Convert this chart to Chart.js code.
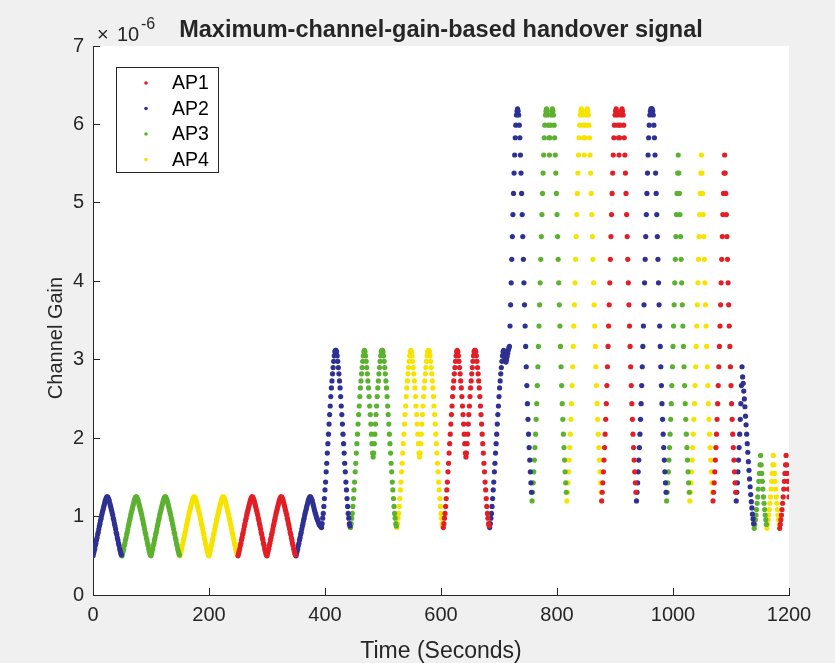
<!DOCTYPE html>
<html>
<head>
<meta charset="utf-8">
<script src="https://cdn.jsdelivr.net/npm/chart.js@4.4.0/dist/chart.umd.min.js"></script>
<style>
  html, body { margin: 0; padding: 0; background: #f0f0f0; }
  canvas { display: block; }
</style>
</head>
<body>
<canvas id="gainChart" width="835" height="663"></canvas>
<script>
  const apNames = ['AP1', 'AP2', 'AP3', 'AP4'];
  const apColors = ['#e21f26', '#2e3192', '#5cb130', '#f6e400'];
  const xTicks = [0, 200, 400, 600, 800, 1000, 1200];
  const yTicks = [0, 1, 2, 3, 4, 5, 6, 7];

  // channel gain in units of 1e-6, one sample per second
  const hump1 = [0.50, 0.53, 0.56, 0.59, 0.63, 0.66, 0.70, 0.73, 0.77, 0.80, 0.84, 0.88, 0.91, 0.95, 0.98, 1.02, 1.05, 1.08, 1.11, 1.14, 1.17, 1.20, 1.22, 1.24, 1.25, 1.25,
    1.24, 1.22, 1.20, 1.17, 1.14, 1.11, 1.08, 1.05, 1.02, 0.98, 0.95, 0.91, 0.88, 0.84, 0.80, 0.77, 0.73, 0.70, 0.66, 0.63, 0.59, 0.56, 0.53, 0.51];
  const tail1 = [0.50, 0.53, 0.56, 0.59, 0.63, 0.66, 0.70, 0.73, 0.77, 0.80, 0.84, 0.88, 0.91, 0.95, 0.98, 1.02, 1.05, 1.08, 1.11, 1.14, 1.17, 1.20, 1.22, 1.24, 1.25, 1.25,
    1.24, 1.22, 1.20, 1.17, 1.14, 1.11, 1.08, 1.05, 1.03, 1.00, 0.98, 0.96, 0.94, 0.92, 0.90, 0.89, 0.88, 0.87];
  const hump2 = [0.86, 0.91, 0.98, 1.04, 1.13, 1.23, 1.34, 1.44, 1.57, 1.68, 1.81, 1.93, 2.05, 2.18, 2.30, 2.41, 2.53, 2.64, 2.73, 2.82, 2.90, 2.98, 3.05, 3.10, 3.12, 3.12,
    3.10, 3.05, 2.98, 2.90, 2.82, 2.73, 2.64, 2.53, 2.41, 2.30, 2.18, 2.05, 1.93, 1.81, 1.68, 1.57, 1.44, 1.34, 1.23, 1.13, 1.04, 0.98, 0.91, 0.88];
  const twin2 = [0.86, 0.91, 0.98, 1.04, 1.13, 1.23, 1.34, 1.44, 1.57, 1.68, 1.81, 1.93, 2.05, 2.18, 2.30, 2.41, 2.53, 2.64, 2.73, 2.82, 2.90, 2.98, 3.05, 3.10, 3.12,
    3.10, 3.05, 2.98, 2.90, 2.82, 2.73, 2.64, 2.53, 2.41, 2.30, 2.18, 2.05, 1.93, 1.81, 1.76,
    1.81, 1.93, 2.05, 2.18, 2.30, 2.41, 2.53, 2.64, 2.73, 2.82, 2.90, 2.98, 3.05, 3.10, 3.12, 3.12,
    3.10, 3.05, 2.98, 2.90, 2.82, 2.73, 2.64, 2.53, 2.41, 2.30, 2.18, 2.05, 1.93, 1.81, 1.68, 1.57, 1.44, 1.34, 1.23, 1.13, 1.04, 0.98, 0.91, 0.88];
  const end2 = [0.86, 0.91, 0.98, 1.04, 1.13, 1.23, 1.34, 1.44, 1.57, 1.68, 1.81, 1.93, 2.05, 2.18, 2.30, 2.41, 2.53, 2.64, 2.73, 2.82, 2.90, 2.98, 3.05, 3.10,
    3.12, 3.08, 3.02, 2.98, 2.97, 3.00, 3.04, 3.08, 3.12, 3.15];
  const start3 = [3.17, 3.43, 3.70, 3.98, 4.28, 4.57, 4.85, 5.12, 5.38, 5.61, 5.83, 5.99, 6.12, 6.17, 6.20, 6.17,
    6.12, 5.99, 5.83, 5.61, 5.38, 5.12, 4.85, 4.57, 4.28, 3.98, 3.70, 3.43, 3.17, 2.91, 2.67, 2.44, 2.24, 2.05, 1.88, 1.72, 1.57, 1.43, 1.31];
  const twin3 = [1.20, 1.31, 1.43, 1.57, 1.72, 1.88, 2.05, 2.24, 2.44, 2.67, 2.91, 3.17, 3.43, 3.70, 3.98, 4.28, 4.57, 4.85, 5.12, 5.38, 5.61, 5.83, 5.99, 6.12,
    6.17, 6.20, 6.17, 6.12, 5.99, 5.83, 5.61, 5.83, 5.99, 6.12, 6.17, 6.20, 6.17,
    6.12, 5.99, 5.83, 5.61, 5.38, 5.12, 4.85, 4.57, 4.28, 3.98, 3.70, 3.43, 3.17, 2.91, 2.67, 2.44, 2.24, 2.05, 1.88, 1.72, 1.57, 1.43, 1.31];
  const hump3 = [1.20, 1.31, 1.43, 1.57, 1.72, 1.88, 2.05, 2.24, 2.44, 2.67, 2.91, 3.17, 3.43, 3.70, 3.98, 4.28, 4.57, 4.85, 5.12, 5.38, 5.61, 5.83, 5.99, 6.12,
    6.17, 6.20, 6.20, 6.20, 6.17,
    6.12, 5.99, 5.83, 5.61, 5.38, 5.12, 4.85, 4.57, 4.28, 3.98, 3.70, 3.43, 3.17, 2.91, 2.67, 2.44, 2.24, 2.05, 1.88, 1.72, 1.57, 1.43, 1.31];
  const cut3 = [1.20, 1.31, 1.43, 1.57, 1.72, 1.88, 2.05, 2.24, 2.44, 2.67, 2.91, 3.17, 3.43, 3.70, 3.98, 4.28, 4.57, 4.85, 5.12, 5.38, 5.61,
    5.38, 5.12, 4.85, 4.57, 4.28, 3.98, 3.70, 3.43, 3.17, 2.91, 2.67, 2.44, 2.24, 2.05, 1.88, 1.72, 1.57, 1.43, 1.31];
  const end3 = [1.20, 1.31, 1.43, 1.57, 1.72, 1.88, 2.05, 2.24, 2.44, 2.67, 2.91,
    2.78, 2.70, 2.60, 2.50, 2.40, 2.28, 2.17, 2.05, 1.93, 1.82, 1.70, 1.59, 1.48, 1.38, 1.28, 1.19, 1.11, 1.03, 0.97, 0.91];
  const hump4 = [0.85, 0.90, 0.96, 1.02, 1.09, 1.17, 1.25, 1.35, 1.45, 1.55, 1.66, 1.78,
    1.66, 1.55, 1.45, 1.35, 1.25, 1.17, 1.09, 1.02, 0.96, 0.90];

  // serving AP (1..4) for each stretch of the trace, in time order
  const runAp = [2, 3, 3, 4, 4, 1, 1, 2,
    2, 3, 4, 1, 2,
    2, 3, 4, 1, 2, 3, 4, 1, 2,
    3, 4, 1];
  const runShape = [hump1, hump1, hump1, hump1, hump1, hump1, hump1, tail1,
    hump2, twin2, twin2, twin2, end2,
    start3, twin3, twin3, twin3, hump3, cut3, cut3, cut3, end3,
    hump4, hump4, hump4];

  const axisColor = '#262626';
  const fontFamily = '"Liberation Sans", Arial, Helvetica, sans-serif';

  const series = apNames.map(() => []);
  let t = 0;
  runShape.forEach((shape, i) => {
    shape.forEach(v => {
      if (t <= 1200) series[runAp[i] - 1].push({ x: t, y: v });
      t++;
    });
  });

  const datasets = apNames.map((name, i) => ({
    label: name,
    data: series[i],
    backgroundColor: apColors[i],
    borderColor: apColors[i],
    pointRadius: 2.6,
    pointBorderWidth: 0,
    showLine: false
  }));

  const frame = {
    id: 'frame',
    beforeDraw(chart) {
      const { ctx, chartArea: a } = chart;
      ctx.save();
      ctx.fillStyle = '#ffffff';
      ctx.fillRect(a.left, a.top, a.right - a.left, a.bottom - a.top);
      ctx.restore();
    },
    afterDraw(chart) {
      const { ctx, chartArea: a } = chart;
      ctx.save();
      ctx.fillStyle = axisColor;
      ctx.textBaseline = 'alphabetic';

      // title
      ctx.font = 'bold 23.5px ' + fontFamily;
      ctx.textAlign = 'center';
      ctx.fillText('Maximum-channel-gain-based handover signal', (a.left + a.right) / 2, 37);

      // exponent
      ctx.font = '20px ' + fontFamily;
      ctx.textAlign = 'left';
      ctx.fillText('\u00d7', 97, 41);
      ctx.fillText('10', 117, 41);
      ctx.font = '16px ' + fontFamily;
      ctx.fillText('-6', 141, 29);

      // axis titles
      ctx.font = '23px ' + fontFamily;
      ctx.textAlign = 'center';
      ctx.fillText('Time (Seconds)', (a.left + a.right) / 2, 658);
      ctx.save();
      ctx.font = '20px ' + fontFamily;
      ctx.translate(62, 338);
      ctx.rotate(-Math.PI / 2);
      ctx.fillText('Channel Gain', 0, 0);
      ctx.restore();

      // legend
      const lx = 116, ly = 67, lw = 102, lh = 105;
      ctx.fillStyle = '#ffffff';
      ctx.fillRect(lx, ly, lw, lh);
      ctx.strokeStyle = axisColor;
      ctx.lineWidth = 1;
      ctx.strokeRect(lx + 0.5, ly + 0.5, lw, lh);
      ctx.font = '19.5px ' + fontFamily;
      ctx.textAlign = 'left';
      ctx.textBaseline = 'middle';
      chart.data.datasets.forEach((ds, i) => {
        const y = ly + 16 + i * 25.5;
        ctx.fillStyle = ds.backgroundColor;
        ctx.beginPath();
        ctx.arc(lx + 30, y, 1.8, 0, Math.PI * 2);
        ctx.fill();
        ctx.fillStyle = '#000000';
        ctx.fillText(ds.label, lx + 56, y + 1);
      });
      ctx.restore();
    }
  };

  new Chart(document.getElementById('gainChart'), {
    type: 'scatter',
    data: { datasets: datasets },
    options: {
      responsive: false,
      animation: false,
      layout: { padding: { left: 0, top: 46, right: 46, bottom: 0 } },
      plugins: { legend: { display: false }, tooltip: { enabled: false } },
      scales: {
        x: {
          type: 'linear',
          min: 0,
          max: 1200,
          afterFit: s => { s.height = 68; },
          afterBuildTicks: s => { s.ticks = xTicks.map(v => ({ value: v })); },
          grid: { drawOnChartArea: false, tickLength: -7, color: axisColor },
          border: { color: axisColor },
          ticks: { padding: 15, color: axisColor, maxRotation: 0, font: { family: fontFamily, size: 20 }, callback: v => String(v) }
        },
        y: {
          type: 'linear',
          min: 0,
          max: 7,
          afterFit: s => { s.width = 93; },
          afterBuildTicks: s => { s.ticks = yTicks.map(v => ({ value: v })); },
          grid: { drawOnChartArea: false, tickLength: -7, color: axisColor },
          border: { color: axisColor },
          ticks: { padding: 16, color: axisColor, font: { family: fontFamily, size: 20 }, callback: v => String(v) }
        }
      }
    },
    plugins: [frame]
  });
</script>
</body>
</html>
